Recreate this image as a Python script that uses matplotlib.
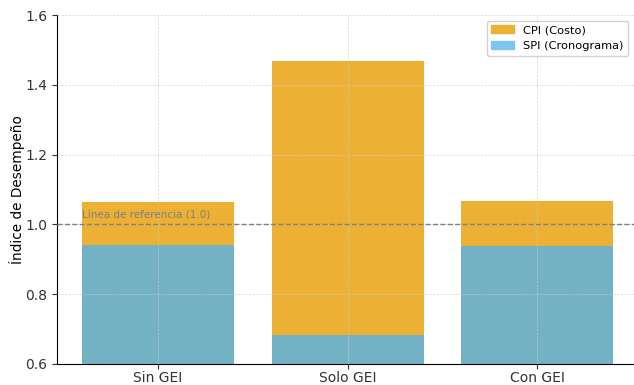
import matplotlib
matplotlib.use("Agg")
import matplotlib.pyplot as plt
from matplotlib.patches import Patch

escenarios = ["Sin GEI", "Solo GEI", "Con GEI"]
cpi = [1.065, 1.468, 1.067]
spi = [0.941, 0.683, 0.938]
referencia = 1.0

color_cpi = "#ebb034"
color_spi = "#72b2c4"
color_spi_leyenda = "#7cc5ef"

fig = plt.figure(figsize=(6.34, 3.85), dpi=100)
ax = fig.add_axes([0.09, 0.055, 0.91, 0.906])

ax.bar(escenarios, cpi, width=0.8, color=color_cpi, zorder=2)
ax.bar(escenarios, spi, width=0.8, color=color_spi, zorder=2)

ax.axhline(referencia, color="gray", linestyle="--", linewidth=1, zorder=3)
ax.text(-0.4, referencia + 0.012, "Línea de referencia (1.0)", color="gray",
        fontsize=7.5, va="bottom", ha="left", zorder=4)

ax.set_xlim(-0.533, 2.51)
ax.set_ylim(0.6, 1.6)
ax.set_ylabel("Índice de Desempeño", fontsize=9.8, labelpad=0)
ax.tick_params(axis="both", labelsize=10, colors="#333333")
ax.tick_params(axis="x", pad=2)

ax.grid(True, linestyle="--", linewidth=0.5, color="#cccccc", alpha=0.8, zorder=5)
ax.set_axisbelow(False)
for s in ["top", "right"]:
    ax.spines[s].set_visible(False)

handles = [Patch(color=color_cpi, label="CPI (Costo)"),
           Patch(color=color_spi_leyenda, label="SPI (Cronograma)")]
ax.legend(handles=handles, loc="upper right", fontsize=8.2, framealpha=0.9)

fig.savefig("out.png", dpi=100)
